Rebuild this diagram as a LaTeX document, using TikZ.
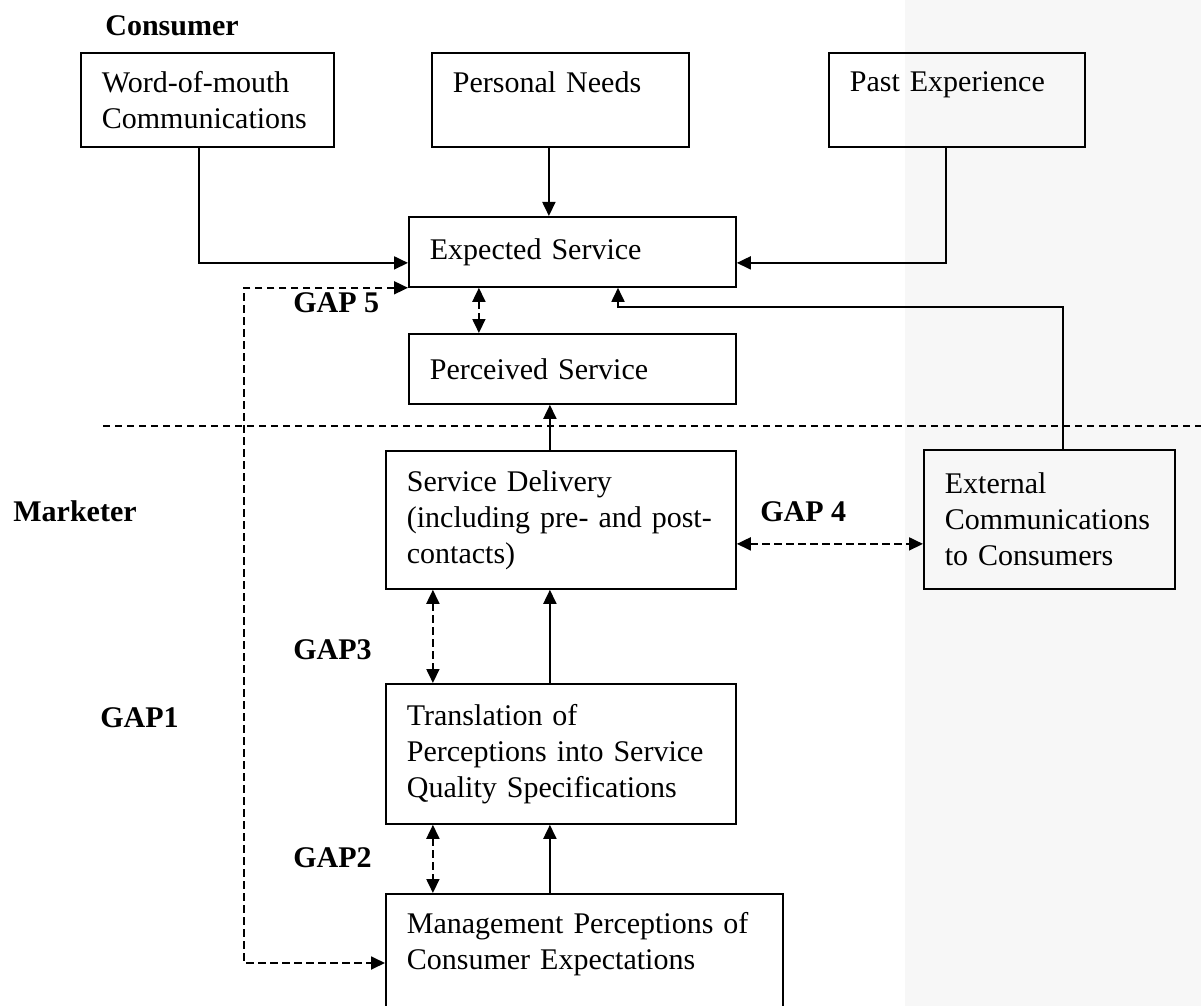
\documentclass[tikz,border=0pt]{standalone}
\usepackage{fontspec}
\setmainfont{Liberation Serif}
\usetikzlibrary{arrows.meta}

\begin{document}
\begin{tikzpicture}[
  x=0.5pt, y=-0.5pt,
  font=\fontsize{15pt}{18pt}\selectfont,
  box/.style={draw, line width=0.9pt, anchor=north west, align=left,
              inner xsep=10.5pt, inner ysep=0pt},
  lbl/.style={font=\fontsize{15pt}{18pt}\selectfont\bfseries, anchor=base west, inner sep=0pt},
  arr/.style={line width=0.9pt, -{Triangle[length=7pt,width=6.5pt]}},
  gapline/.style={line width=0.9pt, dash pattern=on 3.6pt off 2.4pt,
                  {Triangle[length=7pt,width=6.5pt]}-{Triangle[length=7pt,width=6.5pt]}},
  divider/.style={line width=0.9pt, dash pattern=on 3.6pt off 2.4pt},
]
  % page and scan shade
  \clip (0,0) rectangle (1201,1006);
  \fill[black!3] (905,0) rectangle (1201,1006);

  % consumer row
  \node[lbl] (consumer) at (105,36) {Consumer};
  \node[box, text width=105.5pt, minimum height=47pt] (wom) at (80,52)
    {Word-of-mouth\\Communications};
  \node[box, text width=107.5pt, minimum height=47pt] (needs) at (431,52)
    {Personal Needs\\ \mbox{}};
  \node[box, text width=107pt, minimum height=47pt] (past) at (828,52)
    {Past Experience\\ \mbox{}};
  \node[box, text width=142.5pt, minimum height=35pt] (expected) at (408,216)
    {Expected Service};
  \node[box, text width=142.5pt, minimum height=35pt] (perceived) at (408,333)
    {Perceived Service};

  % consumer / marketer boundary
  \coordinate (divl) at (103,426);
  \coordinate (divr) at (1201,426);
  \draw[divider] (divl) -- (divr);

  % marketer row
  \node[lbl] (marketer) at (13,521) {Marketer};
  \node[box, text width=154pt, minimum height=69pt] (delivery) at (385,450)
    {Service Delivery\\(including pre- and post-\\contacts)};
  \node[box, text width=104.5pt, minimum height=69.5pt] (external) at (923,449)
    {External\\Communications\\to Consumers};
  \node[box, text width=154pt, minimum height=70pt] (translation) at (385,683)
    {Translation of\\Perceptions into Service\\Quality Specifications};
  \node[box, text width=177.5pt, minimum height=65pt] (management) at (385,893)
    {Management Perceptions of\\Consumer Expectations\\ \mbox{}};

  % gap labels
  \node[lbl] (gap5) at (293,313) {GAP 5};
  \node[lbl] (gap4) at (760,521) {GAP 4};
  \node[lbl] (gap3) at (293,659) {GAP3};
  \node[lbl] (gap1) at (100,727) {GAP1};
  \node[lbl] (gap2) at (293,867) {GAP2};

  % solid connectors
  \draw[arr] ([xshift=-4.25pt]wom.south) |- ([yshift=-5.5pt]expected.west);
  \draw[arr] ([xshift=-5.75pt]needs.south) -- ([xshift=-5.75pt]needs.south |- expected.north);
  \draw[arr] ([xshift=-5.5pt]past.south) |- ([yshift=-5.5pt]expected.east);
  \coordinate (extbend) at (618,307);
  \draw[arr] ([xshift=6.75pt]external.north) |- (extbend) -- (extbend |- expected.south);
  \draw[arr] ([xshift=-5.5pt]delivery.north) -- ([xshift=-5.5pt]delivery.north |- perceived.south);
  \draw[arr] ([xshift=-5.5pt]translation.north) -- ([xshift=-5.5pt]translation.north |- delivery.south);
  \draw[arr] ([xshift=-5.5pt]translation.south |- management.north) -- ([xshift=-5.5pt]translation.south);

  % gaps
  \draw[gapline] ([xshift=-46.75pt]expected.south) -- ([xshift=-46.75pt]expected.south |- perceived.north);
  \draw[gapline] ([yshift=-12pt]delivery.east) -- ([yshift=-12pt]delivery.east -| external.west);
  \draw[gapline] ([xshift=-64pt]delivery.south) -- ([xshift=-64pt]delivery.south |- translation.north);
  \draw[gapline] ([xshift=-64pt]translation.south) -- ([xshift=-64pt]translation.south |- management.north);
  \coordinate (gap1turn) at (244,963);
  \draw[gapline] (expected.south west) -| (gap1turn) -- (gap1turn -| management.west);
\end{tikzpicture}
\end{document}
